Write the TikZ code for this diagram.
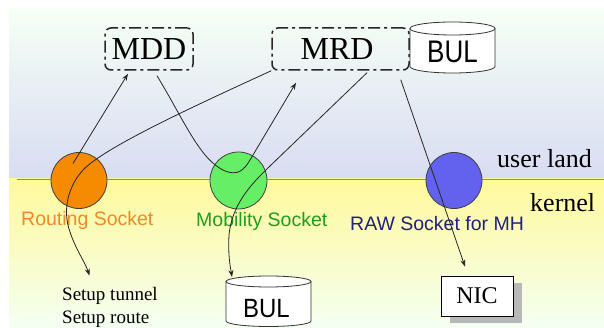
\documentclass[tikz,border=0pt]{standalone}
\usepackage{fontspec}
\setmainfont{Liberation Serif}
\setsansfont{Liberation Sans}
\usetikzlibrary{calc,arrows.meta,shadows}
\definecolor{skytop}{HTML}{F6FFF6}
\definecolor{skymid}{HTML}{E6E9F6}
\definecolor{skybot}{HTML}{D8DCF2}
\definecolor{kertop}{HTML}{FFF99C}
\definecolor{kermid}{HTML}{FDFDCC}
\definecolor{kerbot}{HTML}{F4FFF2}
\definecolor{orangefill}{HTML}{F68A00}
\definecolor{greenfill}{HTML}{66EE66}
\definecolor{bluefill}{HTML}{6262EE}
\definecolor{orangetext}{HTML}{EE8A28}
\definecolor{greentext}{HTML}{1E9E1E}
\definecolor{bluetext}{HTML}{22227A}
\begin{document}
\begin{tikzpicture}[x=1pt,y=-1pt,
  conn/.style={draw=black!85, line width=0.8pt},
  arr/.style={conn, -{Stealth[length=7pt,width=5pt]}},
  ddbox/.style={draw=black!85, line width=1.5pt, rounded corners=6pt,
    dash pattern=on 12pt off 4pt on 3pt off 4pt, inner sep=0pt},
  sock/.style={circle, draw=black!75, line width=0.8pt, minimum size=56pt, inner sep=0pt},
  cyl/.style={draw=black!80, line width=0.8pt, fill=white},
  serifbig/.style={font=\fontsize{32}{32}\selectfont},
  sockl/.style={font=\sffamily\fontsize{19.5}{20}\selectfont, inner sep=0pt, anchor=base west},
  landl/.style={font=\fontsize{26}{26}\selectfont, inner sep=0pt, anchor=base west},
  setupl/.style={font=\fontsize{19}{19}\selectfont, inner sep=0pt, anchor=base west}]
\useasboundingbox (0,0) rectangle (604,328);
% background
\shade[top color=skytop, middle color=skymid, bottom color=skybot] (9,9) rectangle (604,179);
\shade[top color=kertop, middle color=kermid, bottom color=kerbot] (9,179) rectangle (604,328);
\draw[black!45, line width=0.8pt] (17,179) -- (604,179);
% boxes
\node[ddbox, minimum width=88pt, minimum height=42pt, serifbig] (mdd) at (149,49) {MDD};
\node[ddbox, minimum width=137pt, minimum height=42pt, serifbig] (mrd) at (340.5,49) {\hspace*{-7pt}MRD};
% top BUL cylinder
\draw[cyl] (410,28.5) -- (410,66.5) arc[start angle=180, end angle=0, x radius=42.5, y radius=6.5] -- (495,28.5);
\draw[cyl] (452.5,28.5) ellipse[x radius=42.5, y radius=6.5];
\node[font=\sffamily\fontsize{26}{26}\selectfont, inner sep=0pt] (bul1) at (452.5,51.5) {\scalebox{1}[1.2]{BUL}};
% bottom BUL cylinder
\draw[cyl] (226,281.5) -- (226,321) arc[start angle=180, end angle=0, x radius=42.5, y radius=5.5] -- (311,281.5);
\draw[cyl] (268.5,281.5) ellipse[x radius=42.5, y radius=5.5];
\node[font=\sffamily\fontsize{24}{24}\selectfont, inner sep=0pt] (bul2) at (266.5,308.5) {\scalebox{1}[1.1]{BUL}};
% NIC
\node[draw=black, line width=0.8pt, fill=white, minimum width=72pt, minimum height=40pt,
  font=\fontsize{24}{24}\selectfont, inner sep=0pt,
  drop shadow={shadow xshift=9pt, shadow yshift=-7pt, fill=black!28, opacity=1}] (nic) at (477,296) {NIC};
% sockets
\node[sock, fill=orangefill] (orange) at (79,180.5) {};
\node[sock, fill=greenfill, minimum size=57pt] (green) at (238.5,180.5) {};
\node[sock, fill=bluefill] (blue) at (454,180.5) {};
% labels
\node[sockl, text=orangetext] (lrout) at (21,226) {Routing Socket};
\node[sockl, text=greentext] (lmob) at (196,227) {Mobility Socket};
\node[sockl, text=bluetext] (lraw) at (350,231) {RAW Socket for MH};
\node[landl] (user) at (497,168) {user land};
\node[landl] (kern) at (530,212) {kernel};
\node[setupl] (setup1) at (62,300) {Setup tunnel};
\node[setupl] (setup2) at (62,323) {Setup route};
% connectors
\draw[arr] ($(orange)+(-6,-17)$) -- ($(mdd.south)+(-21,3)$);
\draw[arr] (mrd.south west) .. controls (190,108) and (110,145) .. ($(orange)+(6,-12.5)$)
  .. controls (68,185) and (62,210) .. (70,232)
  .. controls (76,250) and (85,262) .. ($(setup1.north)+(-20.5,-11)$);
\draw[arr] ($(mdd.south)+(8,5)$) .. controls (185,122) and (200,160) .. (225,171)
  .. controls (238,176) and (244,170) .. (250,160) -- ($(mrd.south)+(-44.5,12)$);
\draw[arr] ($(mrd.south)+(26.5,2)$) -- (270,166)
  .. controls (250,185) and (232,205) .. (229,235)
  .. controls (228,255) and (230,265) .. ($(bul2)+(-34.5,-31.5)$);
\draw[arr] ($(mrd.south east)+(-9,9)$) -- ($(nic.north)+(-12,-9)$);
\end{tikzpicture}
\end{document}
